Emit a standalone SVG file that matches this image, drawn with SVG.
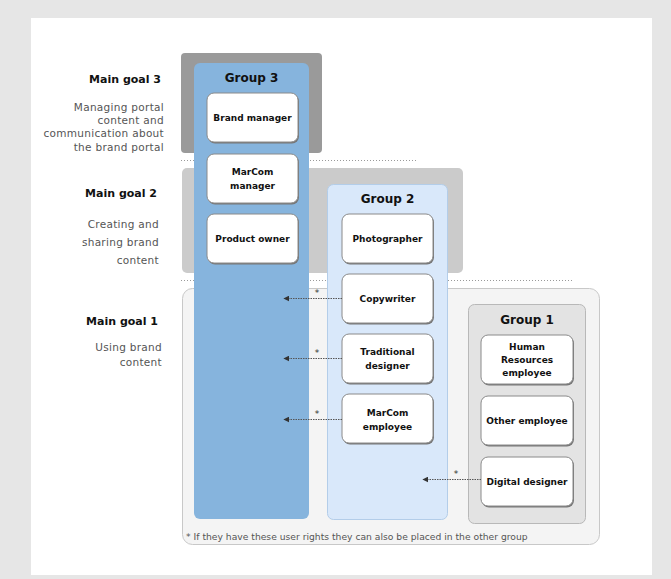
<svg xmlns="http://www.w3.org/2000/svg" width="671" height="579" viewBox="0 0 671 579">
<defs>
<marker id="ah" viewBox="0 0 10 10" refX="9" refY="5" markerWidth="6" markerHeight="6" orient="auto-start-reverse" markerUnits="userSpaceOnUse">
<path d="M0,0 L10,5 L0,10 z" fill="#333"/>
</marker>
</defs>
<style>
text{font-family:"DejaVu Sans","Noto Sans",sans-serif}
.goal{font-size:11px;font-weight:bold;fill:#111;text-anchor:end}
.desc{font-size:10.5px;letter-spacing:0.3px;fill:#555;text-anchor:end}
.grp{font-size:12px;font-weight:bold;fill:#111;text-anchor:middle}
.lbl{font-size:9px;font-weight:bold;fill:#111;text-anchor:middle}
.box{fill:#fff;stroke:#8a8a8a;stroke-width:1}
.shadow{fill:#777}
.sep{stroke:#9a9a9a;stroke-width:1;stroke-dasharray:1 2;fill:none}
.conn{stroke:#555;stroke-width:1;stroke-dasharray:1.5 1;fill:none;marker-end:url(#ah)}
.star{font-size:9px;fill:#333;text-anchor:middle}
.foot{font-size:9.2px;fill:#555}
</style>
<rect x="0" y="0" width="671" height="579" fill="#e6e6e6"/>
<rect x="31" y="18" width="621" height="557" fill="#ffffff"/>

<g id="goal-labels">
<text class="goal" x="161" y="83">Main goal 3</text>
<text class="desc" x="164" y="111">Managing portal</text>
<text class="desc" x="164" y="124">content and</text>
<text class="desc" x="164" y="137">communication about</text>
<text class="desc" x="164" y="151">the brand portal</text>
<text class="goal" x="157" y="197">Main goal 2</text>
<text class="desc" x="159" y="228">Creating and</text>
<text class="desc" x="159" y="246">sharing brand</text>
<text class="desc" x="159" y="264">content</text>
<text class="goal" x="158" y="325">Main goal 1</text>
<text class="desc" x="162" y="351">Using brand</text>
<text class="desc" x="162" y="366">content</text>
</g>

<g id="goal3-band"><rect x="181" y="53" width="141" height="100" rx="4" fill="#9a9a9a"/></g>
<g id="goal2-band"><rect x="182" y="168" width="281" height="105" rx="5" fill="#cbcbcb"/></g>
<g id="goal1-band">
<rect x="182.5" y="288.5" width="417" height="256" rx="10" fill="#f4f4f4" stroke="#c8c8c8"/>
<text class="foot" x="186" y="540">* If they have these user rights they can also be placed in the other group</text>
</g>
<g id="separators">
<line class="sep" x1="181" y1="160.5" x2="416" y2="160.5"/>
<line class="sep" x1="181" y1="280.5" x2="573" y2="280.5"/>
</g>

<g id="group3">
<rect x="194" y="63" width="115" height="456" rx="6" fill="#86b4dd"/>
<text class="grp" x="251.5" y="82">Group 3</text>
</g>
<g id="group2">
<rect x="327.5" y="184.5" width="120" height="335" rx="6" fill="#d9e8fa" stroke="#b3cde9"/>
<text class="grp" x="387.5" y="203">Group 2</text>
</g>
<g id="group1">
<rect x="468.5" y="304.5" width="117" height="219" rx="6" fill="#e3e3e3" stroke="#b8b8b8"/>
<text class="grp" x="527" y="324">Group 1</text>
</g>

<g id="brand-manager">
<rect class="shadow" x="208" y="94.5" width="91" height="49" rx="7"/>
<rect class="box" x="207" y="93" width="91" height="49" rx="7"/>
<text class="lbl" x="252.5" y="121">Brand manager</text>
</g>
<g id="marcom-manager">
<rect class="shadow" x="208" y="155.5" width="91" height="49" rx="7"/>
<rect class="box" x="207" y="154" width="91" height="49" rx="7"/>
<text class="lbl" x="252.5" y="175">MarCom</text>
<text class="lbl" x="252.5" y="189">manager</text>
</g>
<g id="product-owner">
<rect class="shadow" x="208" y="215.5" width="91" height="49" rx="7"/>
<rect class="box" x="207" y="214" width="91" height="49" rx="7"/>
<text class="lbl" x="252.5" y="242">Product owner</text>
</g>

<g id="photographer">
<rect class="shadow" x="343" y="215.5" width="91" height="49" rx="7"/>
<rect class="box" x="342" y="214" width="91" height="49" rx="7"/>
<text class="lbl" x="387.5" y="242">Photographer</text>
</g>
<g id="copywriter">
<rect class="shadow" x="343" y="275.5" width="91" height="49" rx="7"/>
<rect class="box" x="342" y="274" width="91" height="49" rx="7"/>
<text class="lbl" x="387.5" y="302">Copywriter</text>
</g>
<g id="traditional-designer">
<rect class="shadow" x="343" y="335.5" width="91" height="49" rx="7"/>
<rect class="box" x="342" y="334" width="91" height="49" rx="7"/>
<text class="lbl" x="387.5" y="355">Traditional</text>
<text class="lbl" x="387.5" y="369">designer</text>
</g>
<g id="marcom-employee">
<rect class="shadow" x="343" y="395.5" width="91" height="49" rx="7"/>
<rect class="box" x="342" y="394" width="91" height="49" rx="7"/>
<text class="lbl" x="387.5" y="416">MarCom</text>
<text class="lbl" x="387.5" y="430">employee</text>
</g>

<g id="hr-employee">
<rect class="shadow" x="482" y="336.5" width="92" height="49" rx="7"/>
<rect class="box" x="481" y="335" width="92" height="49" rx="7"/>
<text class="lbl" x="527" y="350">Human</text>
<text class="lbl" x="527" y="363">Resources</text>
<text class="lbl" x="527" y="376">employee</text>
</g>
<g id="other-employee">
<rect class="shadow" x="482" y="397.5" width="92" height="49" rx="7"/>
<rect class="box" x="481" y="396" width="92" height="49" rx="7"/>
<text class="lbl" x="527" y="424">Other employee</text>
</g>
<g id="digital-designer">
<rect class="shadow" x="482" y="458.5" width="92" height="49" rx="7"/>
<rect class="box" x="481" y="457" width="92" height="49" rx="7"/>
<text class="lbl" x="527" y="485">Digital designer</text>
</g>

<g id="connectors">
<line class="conn" x1="342" y1="298.5" x2="284" y2="298.5"/>
<text class="star" x="317" y="296">*</text>
<line class="conn" x1="342" y1="358.5" x2="284" y2="358.5"/>
<text class="star" x="317" y="356">*</text>
<line class="conn" x1="342" y1="419.5" x2="284" y2="419.5"/>
<text class="star" x="317" y="417">*</text>
<line class="conn" x1="481" y1="479.5" x2="423" y2="479.5"/>
<text class="star" x="456" y="477">*</text>
</g>
</svg>
